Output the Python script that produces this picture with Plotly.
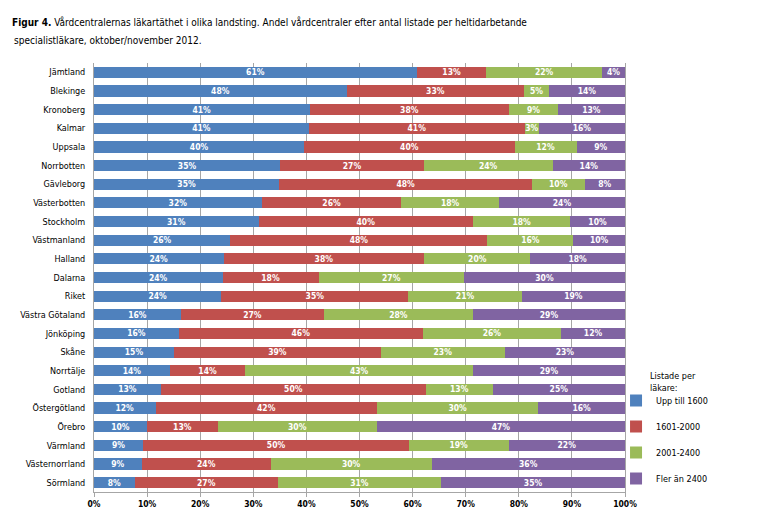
import plotly.graph_objects as go

landsting = ["Jämtland", "Blekinge", "Kronoberg", "Kalmar", "Uppsala", "Norrbotten", "Gävleborg",
             "Västerbotten", "Stockholm", "Västmanland", "Halland", "Dalarna", "Riket",
             "Västra Götaland", "Jönköping", "Skåne", "Norrtälje", "Gotland", "Östergötland",
             "Örebro", "Värmland", "Västernorrland", "Sörmland"]

upp_till_1600 = [60.8, 47.6, 40.6, 40.5, 39.6, 35.1, 34.9, 31.6, 31.0, 25.7, 24.4, 24.2, 24.0,
                 16.4, 16.0, 15.1, 14.3, 12.6, 11.6, 10.0, 9.3, 9.0, 7.7]
r1601_2000 = [13.1, 33.4, 37.6, 40.6, 39.6, 27.0, 47.6, 26.3, 40.4, 48.4, 37.8, 18.1, 35.2,
              26.9, 45.9, 38.9, 14.2, 49.9, 41.7, 13.3, 50.0, 24.3, 26.9]
r2001_2400 = [21.8, 4.7, 9.2, 2.7, 11.7, 24.3, 9.9, 18.4, 18.3, 16.2, 20.0, 27.4, 21.4,
              28.1, 26.1, 23.4, 42.9, 12.6, 30.4, 30.0, 18.8, 30.3, 30.8]
fler_an_2400 = [4.3, 14.3, 12.6, 16.2, 9.1, 13.6, 7.6, 23.7, 10.3, 9.7, 17.8, 30.3, 19.4,
                28.6, 12.0, 22.6, 28.6, 24.9, 16.3, 46.7, 21.9, 36.4, 34.6]

series_names = ["Upp till 1600", "1601-2000", "2001-2400", "Fler än 2400"]
series_values = [upp_till_1600, r1601_2000, r2001_2400, fler_an_2400]
colors = ["#4F81BD", "#C0504D", "#9BBB59", "#8064A2"]

x_ticks = list(range(0, 101, 10))
x_ticklabels = [f"{v}%" for v in x_ticks]

NARROW = "Liberation Sans Narrow, Arial Narrow, DejaVu Sans Condensed, sans-serif"

# page has an 8px body margin; figure is sized so the whole page is 765x523
W, H = 757, 515
OFF = 8
PL, PR, PT, PB = 92, 625, 63, 492  # plot area in screen pixels
pw, ph = PR - PL, PB - PT


def px_x(x):
    return (x - PL) / pw


def px_y(y):
    return (PB - y) / ph


fig = go.Figure()
for i, (name, vals, col) in enumerate(zip(series_names, series_values, colors)):
    fig.add_trace(go.Bar(
        y=landsting, x=vals, name=name, orientation="h",
        marker=dict(color=col, line=dict(width=0)),
        texttemplate="%{x:.0f}%", textposition="inside", insidetextanchor="middle",
        textangle=0,
        textfont=dict(color="white", size=8.5, family=NARROW, weight="bold"),
        legendgroup=f"g{i}",
        hoverinfo="x+y+name",
    ))

fig.update_layout(
    width=W, height=H,
    paper_bgcolor="white", plot_bgcolor="white",
    barmode="stack", bargap=0.4,
    margin=dict(l=PL - OFF, r=W - (PR - OFF), t=PT - OFF, b=H - (PB - OFF)),
    uniformtext=dict(minsize=8.5, mode="show"),
    font=dict(family=NARROW, color="black"),
    title=dict(
        text="<b>Figur 4.</b> Vårdcentralernas läkartäthet i olika landsting. Andel vårdcentraler efter antal listade per heltidarbetande",
        x=(12 - OFF) / W, xanchor="left", xref="container",
        y=1 - (22 - OFF) / H, yanchor="middle", yref="container",
        font=dict(size=10, family=NARROW, color="black"),
    ),
    xaxis=dict(
        range=[0, 100], tickvals=x_ticks, ticktext=x_ticklabels,
        showgrid=True, gridcolor="#A6A6A6", gridwidth=1,
        showline=True, linecolor="#A6A6A6", linewidth=1,
        ticks="outside", ticklen=4, tickcolor="#A6A6A6",
        tickfont=dict(size=8.5, family=NARROW, weight="bold", color="black"),
        zeroline=False, fixedrange=True,
    ),
    yaxis=dict(
        categoryorder="array", categoryarray=landsting, autorange="reversed",
        showline=True, linecolor="#A6A6A6", linewidth=1, mirror=True,
        ticks="", ticklabelstandoff=6,
        tickfont=dict(size=9, family=NARROW, color="black"),
        showgrid=False, fixedrange=True,
    ),
    legend=dict(
        x=px_x(616), xanchor="left", xref="paper",
        y=px_y(386), yanchor="top",
        traceorder="grouped", tracegroupgap=7,
        font=dict(size=9, family=NARROW, color="black"),
        bgcolor="rgba(0,0,0,0)",
    ),
    annotations=[
        dict(
            text="specialistläkare, oktober/november 2012.",
            x=0, y=0, xref="paper", yref="paper",
            showarrow=False, xanchor="left", yanchor="middle", align="left",
            font=dict(size=10, family=NARROW, color="black"),
        ),
        dict(
            text="Listade per<br>läkare:", x=px_x(648), y=px_y(369),
            xref="paper", yref="paper",
            showarrow=False, xanchor="left", yanchor="top", align="left",
            font=dict(size=9, family=NARROW, color="black"),
        ),
    ],
)
# second title line: place in paper coordinates matching screen pixels
fig.layout.annotations[0].x = px_x(10)
fig.layout.annotations[0].y = px_y(41)

fig.write_html("out.html")
